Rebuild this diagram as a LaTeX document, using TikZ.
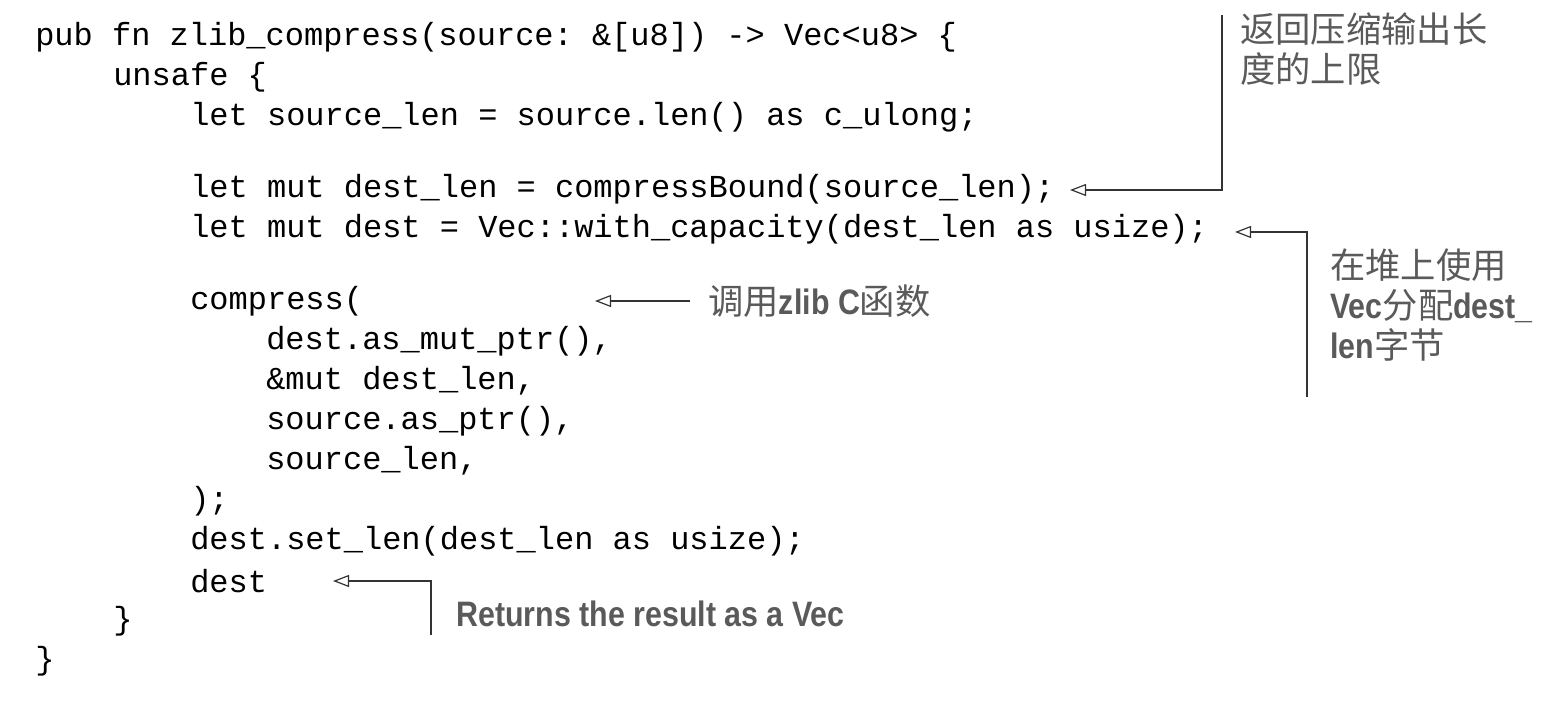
\documentclass[tikz,border=0pt]{standalone}
\usepackage{fontspec}
\usetikzlibrary{arrows.meta}
\setmonofont{Liberation Mono}
\newfontfamily\cjk{Noto Sans CJK SC}
\newfontfamily\notebf[FakeStretch=0.86]{Liberation Sans Bold}
\definecolor{notegray}{RGB}{90,90,90}
\tikzset{
  code/.style={anchor=west, inner sep=0pt, font=\ttfamily\fontsize{24}{24}\selectfont},
  note/.style={anchor=west, inner sep=0pt, text=notegray, font=\cjk\fontsize{26.5}{30}\selectfont, align=left},
  callout/.style={draw=black!80, line width=0.9pt, -{Triangle[open, length=12pt, width=9pt]}}
}
\begin{document}
\begin{tikzpicture}[x=0.75pt, y=-0.75pt]
        \useasboundingbox (0,0) rectangle (1550,716);
        % the code
        \node [code] (l1) at (35,37) {pub fn zlib\_compress(source: \&[u8]) -> Vec<u8> \{};
        \node [code] (l2) at (113,77) {unsafe \{};
        \node [code] (l3) at (190,117) {let source\_len = source.len() as c\_ulong;};
        \node [code] (l4) at (190,189) {let mut dest\_len = compressBound(source\_len);};
        \node [code] (l5) at (190,229) {let mut dest = Vec::with\_capacity(dest\_len as usize);};
        \node [code] (l6) at (190,301) {compress(};
        \node [code] (l7) at (266,341) {dest.as\_mut\_ptr(),};
        \node [code] (l8) at (266,381) {\&mut dest\_len,};
        \node [code] (l9) at (266,421) {source.as\_ptr(),};
        \node [code] (l10) at (266,461) {source\_len,};
        \node [code] (l11) at (190,501) {);};
        \node [code] (l12) at (190,541) {dest.set\_len(dest\_len as usize);};
        \node [code] (l13) at (190,581) {dest};
        \node [code] (l14) at (113,621) {\}};
        \node [code] (l15) at (35,661) {\}};
        % the notes
        \node [note, anchor=north west] (bound) at (1240,12) {返回压缩输出长\\度的上限};
        \node [note, anchor=north west] (alloc) at (1330,248) {在堆上使用\\{\notebf Vec}分配{\notebf dest\_}\\{\notebf len}字节};
        \node [note] (callc) at (708,301) {调用{\notebf zlib C}函数};
        \node [note, font=\notebf\fontsize{26.5}{30}\selectfont] (ret) at (456,614) {Returns the result as a Vec};
        \coordinate (b1) at (1222,15);
        \coordinate (b2) at (1222,190);
        \coordinate (a1) at (1307,397);
        \coordinate (a2) at (1307,232);
        \coordinate (r1) at (431,635);
        \coordinate (r2) at (431,581);
        \draw [callout] (b1) -- (b2) -- (1070,190);
        \draw [callout] (a1) -- (a2) -- (1235,232);
        \draw [callout] (callc.west) ++(-18,0) -- (595,301);
        \draw [callout] (r1) -- (r2) -- (333,581);
\end{tikzpicture}
\end{document}
